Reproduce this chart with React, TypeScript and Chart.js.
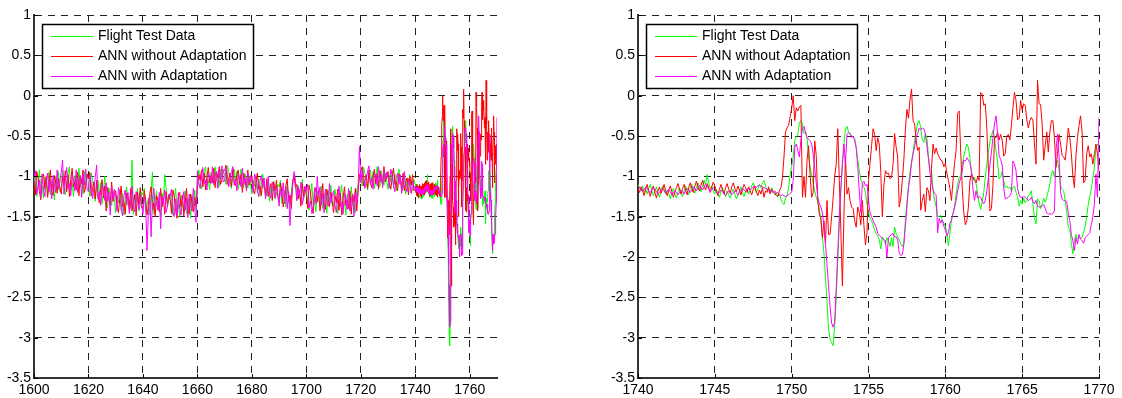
import React, { useEffect, useRef } from 'react';
import { Chart, registerables } from 'chart.js';

Chart.register(...registerables);

const SERIES_LABELS = ['Flight Test Data', 'ANN without Adaptation', 'ANN with Adaptation'];
const SERIES_COLORS = ['#00ff00', '#ff0000', '#ff00ff'];

// early record: 1600.0 .. 1739.5, every 0.5 s (one row = 10 s)
const EARLY_START = 1600;
const EARLY_STEP = 0.5;
// late record: 1740.0 .. 1770.0, every 0.1 s (one row = 1 s)
const LATE_START = 1740;
const LATE_STEP = 0.1;

const flightEarly = [
  -0.98,-1.15,-1.25,-1.08,-0.92,-1.18,-1.12,-1.27,-1.01,-1.06,-1.21,-0.95,-1.23,-1.09,-1.03,-1.29,-1.00,-1.14,-0.94,-1.19,
  -1.14,-0.93,-1.04,-1.23,-1.11,-0.96,-0.88,-1.17,-1.08,-1.25,-0.99,-1.05,-1.19,-0.90,-1.13,-1.02,-1.22,-0.94,-1.10,-0.98,
  -1.08,-1.25,-0.96,-1.04,-1.21,-1.31,-1.12,-1.05,-1.23,-1.08,-1.34,-1.20,-1.00,-1.33,-1.39,-1.14,-1.24,-1.36,-1.18,-1.29,
  -1.45,-1.24,-1.33,-1.16,-1.42,-1.21,-1.48,-1.27,-1.13,-1.36,-1.29,-1.40,-0.80,-1.47,-1.22,-1.32,-1.15,-1.43,-1.35,-1.20,
  -1.23,-1.15,-1.44,-1.36,-1.27,-1.48,-1.19,-0.95,-1.47,-1.30,-1.18,-1.41,-1.26,-1.50,-1.21,-1.33,-0.98,-1.14,-1.38,-1.29,
  -1.21,-1.38,-1.48,-1.31,-1.15,-1.41,-1.35,-1.50,-1.24,-1.29,-1.44,-1.18,-1.46,-1.32,-1.26,-1.52,-1.23,-1.37,-1.17,-1.42,
  -1.09,-0.92,-1.01,-1.16,-1.06,-0.94,-0.88,-1.11,-1.04,-1.17,-0.95,-0.99,-1.11,-0.88,-1.06,-0.97,-1.13,-0.91,-1.03,-0.94,
  -0.97,-1.10,-0.87,-0.94,-1.07,-1.15,-0.96,-0.91,-1.05,-0.94,-1.16,-1.04,-0.91,-1.09,-1.14,-0.97,-1.05,-1.15,-1.00,-1.09,
  -1.22,-1.05,-1.12,-0.99,-1.20,-1.03,-1.25,-1.08,-0.97,-1.16,-1.15,-1.24,-1.06,-1.31,-1.12,-1.18,-1.06,-1.28,-1.22,-1.10,
  -1.13,-1.05,-1.34,-1.26,-1.17,-1.38,-1.09,-1.29,-1.37,-1.20,-1.04,-0.98,-1.10,-1.30,-1.11,-1.23,-1.32,-1.04,-1.28,-1.19,
  -1.15,-1.32,-1.42,-1.25,-1.09,-1.35,-1.29,-1.44,-1.18,-1.23,-1.38,-1.12,-1.40,-1.26,-1.20,-1.46,-1.17,-1.31,-1.11,-1.36,
  -1.37,-1.16,-1.27,-1.46,-1.34,-1.19,-1.11,-1.40,-1.31,-1.48,-1.22,-1.28,-1.42,-1.13,-1.36,-1.25,-1.45,-1.17,-1.12,-1.02,
  -0.99,-1.12,-0.89,-0.96,-1.09,-1.17,-0.97,-0.92,-1.06,-0.94,-1.15,-1.04,-0.88,-1.08,-1.13,-0.93,-1.01,-1.11,-0.96,-1.05,
  -1.16,-0.99,-1.06,-0.93,-1.14,-0.97,-1.18,-1.02,-0.91,-1.09,-1.07,-1.16,-0.98,-1.22,-1.02,-1.10,-0.98,-1.21,-1.16,-1.04,
];

const annNoAdaptEarly = [
  -1.06,-1.23,-0.94,-1.02,-1.19,-1.29,-1.04,-0.97,-1.15,-1.00,-1.26,-1.12,-0.92,-1.18,-1.24,-0.99,-1.09,-1.21,-1.03,-1.14,
  -1.22,-1.01,-1.10,-0.93,-1.19,-0.98,-1.25,-1.04,-0.90,-1.13,-1.06,-1.17,-0.95,-1.24,-0.99,-1.09,-0.92,-1.20,-1.12,-0.97,
  -1.03,-0.95,-1.24,-1.16,-1.07,-1.28,-1.05,-1.25,-1.33,-1.16,-1.04,-1.27,-1.12,-1.43,-1.14,-1.26,-1.35,-1.07,-1.31,-1.22,
  -1.18,-1.35,-1.45,-1.28,-1.12,-1.38,-1.32,-1.47,-1.21,-1.26,-1.41,-1.15,-1.43,-1.29,-1.23,-1.49,-1.20,-1.34,-1.14,-1.39,
  -1.39,-1.18,-1.29,-1.48,-1.36,-1.21,-1.13,-1.42,-1.33,-1.50,-1.24,-1.30,-1.44,-1.15,-1.38,-1.27,-1.47,-1.19,-1.35,-1.23,
  -1.29,-1.46,-1.17,-1.25,-1.42,-1.52,-1.27,-1.20,-1.38,-1.23,-1.49,-1.35,-1.15,-1.41,-1.47,-1.22,-1.32,-1.44,-1.26,-1.37,
  -1.15,-0.98,-1.05,-0.92,-1.13,-0.96,-1.17,-1.01,-0.89,-1.08,-0.99,-1.08,-0.90,-1.14,-0.94,-1.02,-0.88,-1.10,-1.04,-0.92,
  -0.93,-0.86,-1.10,-1.03,-0.96,-1.13,-0.90,-1.06,-1.12,-0.98,-0.92,-1.10,-0.98,-1.20,-0.96,-1.07,-1.14,-0.92,-1.11,-1.04,
  -1.00,-1.14,-1.22,-1.08,-0.96,-1.16,-1.12,-1.24,-1.03,-1.07,-1.24,-1.03,-1.25,-1.14,-1.09,-1.30,-1.07,-1.18,-1.05,-1.25,
  -1.29,-1.08,-1.19,-1.38,-1.26,-1.11,-1.03,-1.32,-1.23,-1.40,-1.06,-1.00,-1.14,-1.10,-1.28,-1.17,-1.37,-1.09,-1.25,-1.13,
  -1.23,-1.40,-1.11,-1.19,-1.36,-1.46,-1.21,-1.14,-1.32,-1.17,-1.43,-1.29,-1.09,-1.35,-1.41,-1.16,-1.26,-1.38,-1.20,-1.31,
  -1.45,-1.24,-1.33,-1.16,-1.42,-1.21,-1.48,-1.27,-1.13,-1.36,-1.29,-1.40,-1.18,-1.47,-1.22,-1.32,-1.15,-1.43,-1.20,-0.98,
  -0.95,-0.88,-1.12,-1.05,-0.98,-1.15,-0.92,-1.08,-1.14,-1.00,-0.91,-1.09,-0.97,-1.16,-0.93,-1.03,-1.10,-0.88,-1.07,-1.00,
  -0.94,-1.08,-1.16,-1.02,-0.90,-1.10,-1.06,-1.18,-0.97,-1.01,-1.17,-0.96,-1.18,-1.07,-1.02,-1.23,-1.00,-1.11,-0.98,-1.18,
];

const annAdaptEarly = [
  -1.01,-0.93,-1.22,-1.14,-1.05,-1.26,-0.97,-1.17,-1.25,-1.08,-0.96,-1.19,-1.04,-1.28,-0.99,-1.11,-1.20,-0.92,-1.16,-1.07,
  -0.95,-0.80,-1.22,-1.05,-0.89,-1.15,-1.09,-1.24,-0.98,-1.03,-1.18,-0.92,-1.20,-1.06,-1.00,-1.26,-0.97,-1.11,-0.91,-1.16,
  -1.19,-0.98,-1.09,-1.28,-1.16,-1.01,-0.86,-1.28,-1.19,-1.36,-1.10,-1.16,-1.30,-1.08,-1.31,-1.20,-1.48,-1.12,-1.28,-1.16,
  -1.26,-1.43,-1.14,-1.22,-1.39,-1.49,-1.24,-1.17,-1.35,-1.20,-1.46,-1.32,-1.12,-1.38,-1.44,-1.19,-1.29,-1.41,-1.23,-1.34,
  -1.47,-1.26,-1.35,-1.92,-1.44,-1.23,-1.75,-1.29,-1.15,-1.38,-1.31,-1.42,-1.20,-1.65,-1.24,-1.34,-1.17,-1.45,-1.37,-1.22,
  -1.24,-1.16,-1.45,-1.50,-1.28,-1.49,-1.20,-1.40,-1.48,-1.31,-1.19,-1.42,-1.27,-1.51,-1.22,-1.34,-1.43,-1.15,-1.39,-1.57,
  -0.93,-1.07,-1.15,-1.01,-0.89,-1.09,-1.05,-1.17,-0.96,-1.00,-1.09,-0.88,-1.10,-0.99,-0.94,-1.15,-0.92,-1.03,-0.87,-1.07,
  -1.06,-0.89,-0.98,-1.13,-1.03,-0.94,-0.88,-1.11,-1.04,-1.18,-0.98,-1.02,-1.13,-0.90,-1.10,-1.02,-1.18,-0.96,-1.08,-0.99,
  -1.07,-1.20,-0.97,-1.04,-1.17,-1.25,-1.05,-0.99,-1.14,-1.02,-1.28,-1.16,-1.00,-1.22,-1.27,-1.07,-1.17,-1.27,-1.12,-1.21,
  -1.37,-1.16,-1.25,-1.08,-1.34,-1.13,-1.40,-1.19,-1.61,-1.28,-1.10,-0.94,-1.05,-1.30,-1.14,-1.24,-1.07,-1.35,-1.27,-1.12,
  -1.18,-1.10,-1.39,-1.31,-1.46,-1.43,-1.14,-1.34,-1.00,-1.25,-1.13,-1.36,-1.21,-1.45,-1.16,-1.28,-1.37,-1.09,-1.33,-1.24,
  -1.18,-1.35,-1.45,-1.28,-1.12,-1.38,-1.32,-1.47,-1.21,-1.26,-1.41,-1.15,-1.43,-1.29,-1.23,-1.49,-1.20,-1.34,-1.14,-0.63,
  -1.08,-0.91,-1.00,-1.15,-1.05,-0.93,-0.87,-1.10,-1.03,-1.16,-0.96,-1.00,-1.12,-0.88,-1.07,-0.98,-1.14,-0.92,-1.04,-0.95,
  -1.01,-1.14,-0.91,-0.98,-1.11,-1.19,-1.01,-0.96,-1.10,-0.98,-1.21,-1.10,-0.94,-1.14,-1.19,-1.03,-1.11,-1.21,-1.06,-1.15,
];

const flightLate = [
  -1.10,-1.14,-1.18,-1.12,-1.20,-1.16,-1.22,-1.15,-1.10,-1.18,
  -1.24,-1.19,-1.13,-1.20,-1.26,-1.18,-1.12,-1.16,-1.22,-1.17,
  -1.21,-1.28,-1.20,-1.15,-1.22,-1.27,-1.19,-1.14,-1.20,-1.25,
  -1.18,-1.12,-1.17,-1.23,-1.15,-1.10,-1.16,-1.21,-1.14,-1.08,
  -1.13,-1.19,-1.12,-1.05,-1.10,-0.98,-1.08,-1.15,-1.12,-1.18,
  -1.22,-1.16,-1.20,-1.26,-1.19,-1.14,-1.21,-1.25,-1.18,-1.23,
  -1.27,-1.20,-1.16,-1.22,-1.28,-1.24,-1.18,-1.13,-1.20,-1.25,
  -1.19,-1.15,-1.22,-1.17,-1.12,-1.08,-1.15,-1.20,-1.16,-1.10,
  -1.14,-1.08,-1.05,-1.12,-1.18,-1.15,-1.20,-1.14,-1.19,-1.23,
  -1.20,-1.25,-1.22,-1.28,-1.33,-1.35,-1.27,-1.24,-1.15,-0.98,
  -0.88,-0.76,-0.55,-0.52,-0.48,-0.34,-0.31,-0.35,-0.47,-0.45,
  -0.52,-0.76,-0.88,-0.98,-1.08,-1.18,-1.26,-1.32,-1.40,-1.55,
  -1.75,-1.95,-2.25,-2.55,-2.90,-3.02,-3.06,-3.10,-2.85,-2.50,
  -2.05,-1.60,-1.20,-0.85,-0.60,-0.42,-0.38,-0.45,-0.47,-0.49,
  -0.51,-0.53,-0.65,-0.80,-0.92,-1.05,-1.09,-1.13,-1.20,-1.35,
  -1.45,-1.52,-1.55,-1.60,-1.67,-1.71,-1.74,-1.78,-1.90,-1.75,
  -1.79,-1.84,-1.76,-1.80,-1.87,-1.76,-1.87,-1.63,-1.71,-1.75,
  -1.79,-1.84,-1.87,-1.82,-1.55,-1.32,-1.12,-0.95,-0.82,-0.70,
  -0.56,-0.44,-0.34,-0.31,-0.40,-0.55,-0.58,-0.47,-0.52,-0.75,
  -0.90,-0.93,-1.17,-1.30,-1.37,-1.50,-1.50,-1.48,-1.55,-1.58,
  -1.62,-1.70,-1.86,-1.70,-1.54,-1.46,-1.38,-1.22,-1.10,-1.02,
  -0.98,-0.85,-0.75,-0.67,-0.60,-0.64,-0.77,-0.97,-1.05,-1.01,
  -1.09,-1.21,-1.33,-1.41,-1.32,-1.20,-1.02,-0.85,-0.70,-0.58,
  -0.50,-0.43,-0.52,-0.68,-0.82,-1.03,-1.01,-0.94,-1.05,-1.14,
  -1.12,-1.15,-1.13,-1.18,-1.14,-1.12,-1.20,-1.25,-1.37,-1.30,
  -1.34,-1.27,-1.33,-1.30,-1.24,-1.22,-1.18,-1.35,-1.51,-1.59,
  -1.28,-1.30,-1.40,-1.34,-1.27,-1.32,-1.26,-1.18,-1.10,-0.97,
  -0.93,-1.01,-0.85,-0.80,-0.92,-1.12,-1.16,-1.18,-1.30,-1.44,
  -1.63,-1.66,-1.83,-1.96,-1.80,-1.72,-1.77,-1.75,-1.77,-1.76,
  -1.69,-1.62,-1.50,-1.35,-1.25,-1.16,-1.02,-0.89,-0.64,-0.60,
  -0.64,
];

const annNoAdaptLate = [
  -1.15,-1.20,-1.13,-1.18,-1.24,-1.16,-1.10,-1.19,-1.25,-1.17,
  -1.12,-1.20,-1.27,-1.18,-1.13,-1.21,-1.16,-1.10,-1.18,-1.24,
  -1.17,-1.12,-1.19,-1.26,-1.20,-1.14,-1.09,-1.16,-1.22,-1.15,
  -1.10,-1.17,-1.23,-1.14,-1.08,-1.15,-1.20,-1.12,-1.06,-1.13,
  -1.18,-1.11,-1.05,-1.12,-1.17,-1.09,-1.14,-1.20,-1.13,-1.07,
  -1.12,-1.19,-1.24,-1.16,-1.10,-1.17,-1.22,-1.14,-1.09,-1.16,
  -1.21,-1.13,-1.08,-1.15,-1.19,-1.12,-1.17,-1.23,-1.16,-1.10,
  -1.14,-1.20,-1.13,-1.18,-1.23,-1.16,-1.12,-1.19,-1.24,-1.17,
  -1.22,-1.14,-1.26,-1.18,-1.20,-1.13,-1.22,-1.16,-1.19,-1.21,
  -1.24,-1.25,-1.18,-1.14,-1.02,-0.76,-0.45,-0.40,-0.37,-0.26,
  -0.16,0.00,-0.31,-0.15,-0.19,-0.14,-0.12,-1.26,-1.00,-1.26,
  -0.80,-0.62,-0.98,-1.26,-1.20,-0.56,-0.74,-1.30,-1.47,-1.52,
  -1.76,-1.55,-1.84,-1.30,-1.72,-1.72,-1.50,-1.26,-1.00,-0.85,
  -0.41,-1.05,-1.66,-2.36,-1.50,-0.75,-1.22,-1.14,-1.30,-1.38,
  -1.40,-1.55,-1.63,-1.38,-1.45,-1.60,-1.30,-1.60,-1.85,-1.70,
  -1.05,-0.84,-0.62,-0.41,-0.48,-0.68,-0.52,-0.60,-0.95,-1.50,
  -1.12,-0.93,-0.97,-0.96,-1.03,-1.01,-0.85,-0.47,-0.64,-0.76,
  -1.38,-1.27,-1.05,-0.80,-0.42,-0.17,-0.28,-0.05,0.08,-0.31,
  -0.35,-0.55,-0.68,-0.64,-1.42,-1.30,-1.22,-1.44,-1.14,-1.18,
  -1.30,-0.90,-0.60,-0.72,-0.65,-0.72,-0.76,-0.80,-0.81,-0.88,
  -0.84,-0.96,-1.05,-1.15,-1.30,-1.05,-0.84,-0.68,-0.22,-0.19,
  -0.70,-1.14,-1.45,-1.60,-1.55,-1.38,-1.06,-0.97,-1.01,-1.05,
  -1.08,-1.01,-1.05,0.04,0.02,-0.12,-0.10,-0.40,-0.90,-1.43,
  -1.40,-1.10,-0.52,-0.52,-0.45,-0.55,-0.48,-0.55,-0.75,-0.72,
  -0.50,-0.48,-0.55,-0.37,-0.15,0.04,-0.06,-0.30,-0.28,-0.06,
  -0.18,-0.10,-0.12,-0.30,-0.40,-0.31,-0.27,-0.31,-0.60,-0.85,
  0.19,-0.10,-0.11,-0.35,-0.80,-0.62,-0.45,-0.70,-0.45,-0.31,
  -0.31,-0.52,-0.89,-0.72,-0.48,-0.60,-0.74,-0.76,-0.80,-0.62,
  -0.40,-0.52,-0.72,-1.00,-1.14,-0.74,-0.52,-0.37,-0.25,-0.45,
  -1.08,-1.05,-0.72,-0.62,-0.76,-0.72,-0.85,-0.72,-0.60,-0.72,
  -0.93,
];

const annAdaptLate = [
  -1.12,-1.14,-1.17,-1.19,-1.16,-1.13,-1.15,-1.18,-1.20,-1.17,
  -1.14,-1.16,-1.19,-1.22,-1.20,-1.17,-1.15,-1.18,-1.21,-1.19,
  -1.16,-1.19,-1.23,-1.21,-1.18,-1.20,-1.23,-1.20,-1.17,-1.19,
  -1.22,-1.18,-1.15,-1.17,-1.20,-1.17,-1.13,-1.15,-1.18,-1.14,
  -1.11,-1.14,-1.17,-1.13,-1.10,-1.12,-1.16,-1.19,-1.17,-1.14,
  -1.16,-1.19,-1.22,-1.20,-1.17,-1.19,-1.22,-1.24,-1.21,-1.18,
  -1.20,-1.23,-1.21,-1.18,-1.20,-1.23,-1.20,-1.17,-1.15,-1.17,
  -1.19,-1.16,-1.14,-1.17,-1.15,-1.13,-1.12,-1.14,-1.12,-1.11,
  -1.12,-1.13,-1.14,-1.15,-1.16,-1.18,-1.17,-1.19,-1.20,-1.18,
  -1.21,-1.20,-1.22,-1.24,-1.23,-1.24,-1.25,-1.24,-1.23,-1.21,
  -1.20,-1.05,-0.64,-0.60,-0.68,-0.76,-0.55,-0.40,-0.38,-0.45,
  -0.52,-0.54,-0.56,-0.60,-0.72,-0.90,-1.08,-1.26,-1.34,-1.38,
  -1.45,-1.62,-1.84,-2.10,-2.35,-2.62,-2.82,-2.87,-2.80,-2.38,
  -1.95,-1.48,-1.15,-0.85,-0.60,-0.85,-0.48,-0.46,-0.47,-0.52,
  -0.50,-0.56,-0.64,-0.88,-1.18,-1.45,-1.08,-1.06,-1.12,-1.10,
  -1.30,-1.45,-1.50,-1.55,-1.59,-1.63,-1.71,-1.73,-1.75,-1.77,
  -1.78,-1.80,-2.00,-1.76,-1.74,-1.72,-1.71,-1.75,-1.75,-1.79,
  -1.95,-1.98,-1.97,-1.85,-1.62,-1.38,-1.14,-1.02,-0.84,-0.72,
  -0.64,-0.52,-0.47,-0.40,-0.42,-0.40,-0.41,-0.48,-0.62,-0.78,
  -0.96,-1.05,-1.17,-1.21,-1.23,-1.70,-1.52,-1.58,-1.54,-1.62,
  -1.66,-1.74,-1.70,-1.58,-1.54,-1.46,-1.38,-1.30,-1.18,-1.09,
  -1.02,-0.94,-0.80,-0.81,-0.77,-0.80,-0.83,-0.93,-1.17,-1.30,
  -1.18,-1.27,-1.25,-1.26,-1.31,-1.34,-1.30,-1.18,-1.02,-0.86,
  -0.70,-0.52,-0.35,-0.25,-0.46,-0.75,-0.79,-0.86,-1.14,-1.28,
  -1.27,-1.26,-1.24,-1.20,-0.81,-0.85,-0.93,-1.15,-1.23,-1.26,
  -1.26,-1.25,-1.26,-1.28,-1.30,-1.29,-1.26,-1.31,-1.34,-1.30,
  -1.37,-1.38,-1.38,-1.37,-1.35,-1.40,-1.45,-1.47,-1.46,-1.47,
  -1.46,-1.43,-0.68,-0.48,-0.75,-1.20,-1.28,-1.30,-1.30,-1.32,
  -1.45,-1.55,-1.72,-1.80,-1.92,-1.76,-1.84,-1.72,-1.78,-1.80,
  -1.83,-1.76,-1.74,-1.72,-1.70,-1.60,-1.50,-1.34,-0.97,-1.26,
  -0.27,
];

const Y_TICKS = [-3.5, -3, -2.5, -2, -1.5, -1, -0.5, 0, 0.5, 1];
const Y_TICK_LABELS = ['-3.5', '-3', '-2.5', '-2', '-1.5', '-1', '-0.5', '0', '0.5', '1'];
const LEFT_X_TICKS = [1600, 1620, 1640, 1660, 1680, 1700, 1720, 1740, 1760];
const RIGHT_X_TICKS = [1740, 1745, 1750, 1755, 1760, 1765, 1770];

const FONT_FAMILY = '"Liberation Sans", Arial, Helvetica, sans-serif';

type Pt = { x: number; y: number };

function toPoints(start: number, step: number, values: number[]): Pt[] {
  return values.map((v, i) => ({ x: Math.round((start + i * step) * 100) / 100, y: v }));
}

const decorPlugin = {
  id: 'matlabDecor',
  afterDraw(chart: any) {
    const { ctx, chartArea } = chart;
    const xs = chart.scales.x;
    const ys = chart.scales.y;
    ctx.save();
    // inward tick marks
    ctx.strokeStyle = '#000';
    ctx.lineWidth = 1;
    ctx.setLineDash([]);
    ctx.beginPath();
    ys.ticks.forEach((t: any) => {
      const py = Math.round(ys.getPixelForValue(t.value)) + 0.5;
      ctx.moveTo(chartArea.left, py);
      ctx.lineTo(chartArea.left + 4, py);
    });
    xs.ticks.forEach((t: any) => {
      const px = Math.round(xs.getPixelForValue(t.value)) + 0.5;
      ctx.moveTo(px, chartArea.bottom);
      ctx.lineTo(px, chartArea.bottom - 4);
    });
    ctx.stroke();

    // legend box
    const x0 = Math.round(chartArea.left) + 8;
    const y0 = Math.round(chartArea.top) + 9;
    ctx.font = '14px ' + FONT_FAMILY;
    const dsets = chart.data.datasets;
    const tw = Math.max(...dsets.map((d: any) => ctx.measureText(d.label).width));
    const w = Math.round(56 + tw + 6);
    const h = 64;
    ctx.fillStyle = '#fff';
    ctx.fillRect(x0, y0, w, h);
    ctx.strokeStyle = '#000';
    ctx.lineWidth = 1.5;
    ctx.strokeRect(x0 + 0.5, y0 + 0.5, w, h);
    dsets.forEach((d: any, i: number) => {
      const yy = y0 + 12 + i * 20;
      ctx.strokeStyle = d.borderColor;
      ctx.lineWidth = 1;
      ctx.beginPath();
      ctx.moveTo(x0 + 9, yy + 0.5);
      ctx.lineTo(x0 + 51, yy + 0.5);
      ctx.stroke();
      ctx.fillStyle = '#000';
      ctx.textBaseline = 'middle';
      ctx.textAlign = 'left';
      ctx.fillText(d.label, x0 + 56, yy);
    });
    ctx.restore();
  },
};

type PanelProps = {
  series: Pt[][];
  xMin: number;
  xMax: number;
  xTicks: number[];
  yAxisWidth: number;
  width: number;
  height: number;
  padRight: number;
  left: number;
};

function Panel(props: PanelProps) {
  const ref = useRef<HTMLCanvasElement | null>(null);
  useEffect(() => {
    if (!ref.current) return;
    const { series, xMin, xMax, xTicks, yAxisWidth, padRight } = props;
    const orders = [3, 2, 1];
    const chart = new Chart(ref.current, {
      type: 'line',
      data: {
        datasets: series.map((pts, i) => ({
          label: SERIES_LABELS[i],
          data: pts,
          borderColor: SERIES_COLORS[i],
          backgroundColor: SERIES_COLORS[i],
          borderWidth: 1,
          pointRadius: 0,
          pointHoverRadius: 0,
          tension: 0,
          fill: false,
          order: orders[i],
        })),
      },
      options: {
        animation: false,
        responsive: false,
        devicePixelRatio: 1,
        parsing: false,
        normalized: true,
        events: [],
        layout: { padding: { left: 0, top: 15, right: padRight, bottom: 0 } },
        plugins: { legend: { display: false }, tooltip: { enabled: false } },
        scales: {
          x: {
            type: 'linear',
            min: xMin,
            max: xMax,
            afterBuildTicks: (s: any) => {
              s.ticks = xTicks.map((v) => ({ value: v }));
            },
            afterFit: (s: any) => {
              s.height = 20;
            },
            grid: { color: '#222', lineWidth: 1, drawTicks: false },
            border: { display: true, color: '#333', width: 2, dash: [7, 6] },
            ticks: {
              padding: 4,
              color: '#000',
              font: { family: FONT_FAMILY, size: 14 },
              maxRotation: 0,
              autoSkip: false,
              callback: (v: any) => String(v),
            },
          },
          y: {
            type: 'linear',
            min: -3.5,
            max: 1,
            afterBuildTicks: (s: any) => {
              s.ticks = Y_TICKS.map((v) => ({ value: v }));
            },
            afterFit: (s: any) => {
              s.width = yAxisWidth;
            },
            grid: { color: '#222', lineWidth: 1, drawTicks: false },
            border: { display: true, color: '#333', width: 2, dash: [7, 6] },
            ticks: {
              padding: 3,
              color: '#000',
              font: { family: FONT_FAMILY, size: 14 },
              autoSkip: false,
              callback: (v: any) => {
                const idx = Y_TICKS.indexOf(Number(v));
                return idx >= 0 ? Y_TICK_LABELS[idx] : String(v);
              },
            },
          },
        },
      },
      plugins: [decorPlugin],
    } as any);
    return () => chart.destroy();
  }, []);
  return (
    <canvas
      ref={ref}
      width={props.width}
      height={props.height}
      style={{ position: 'absolute', left: props.left, top: 0, width: props.width, height: props.height }}
    />
  );
}

export default function App() {
  const fullFlight = [...toPoints(EARLY_START, EARLY_STEP, flightEarly), ...toPoints(LATE_START, LATE_STEP, flightLate)];
  const fullNoAdapt = [...toPoints(EARLY_START, EARLY_STEP, annNoAdaptEarly), ...toPoints(LATE_START, LATE_STEP, annNoAdaptLate)];
  const fullAdapt = [...toPoints(EARLY_START, EARLY_STEP, annAdaptEarly), ...toPoints(LATE_START, LATE_STEP, annAdaptLate)];
  const lateFlight = toPoints(LATE_START, LATE_STEP, flightLate);
  const lateNoAdapt = toPoints(LATE_START, LATE_STEP, annNoAdaptLate);
  const lateAdapt = toPoints(LATE_START, LATE_STEP, annAdaptLate);
  return (
    <div style={{ position: 'fixed', left: 0, top: 0, width: 1122, height: 398, background: '#fff', overflow: 'hidden' }}>
      <Panel
        series={[fullFlight, fullNoAdapt, fullAdapt]}
        xMin={1600}
        xMax={1770}
        xTicks={LEFT_X_TICKS}
        yAxisWidth={34}
        width={520}
        height={398}
        padRight={23}
        left={0}
      />
      <Panel
        series={[lateFlight, lateNoAdapt, lateAdapt]}
        xMin={1740}
        xMax={1770}
        xTicks={RIGHT_X_TICKS}
        yAxisWidth={38}
        width={522}
        height={398}
        padRight={23}
        left={600}
      />
    </div>
  );
}
